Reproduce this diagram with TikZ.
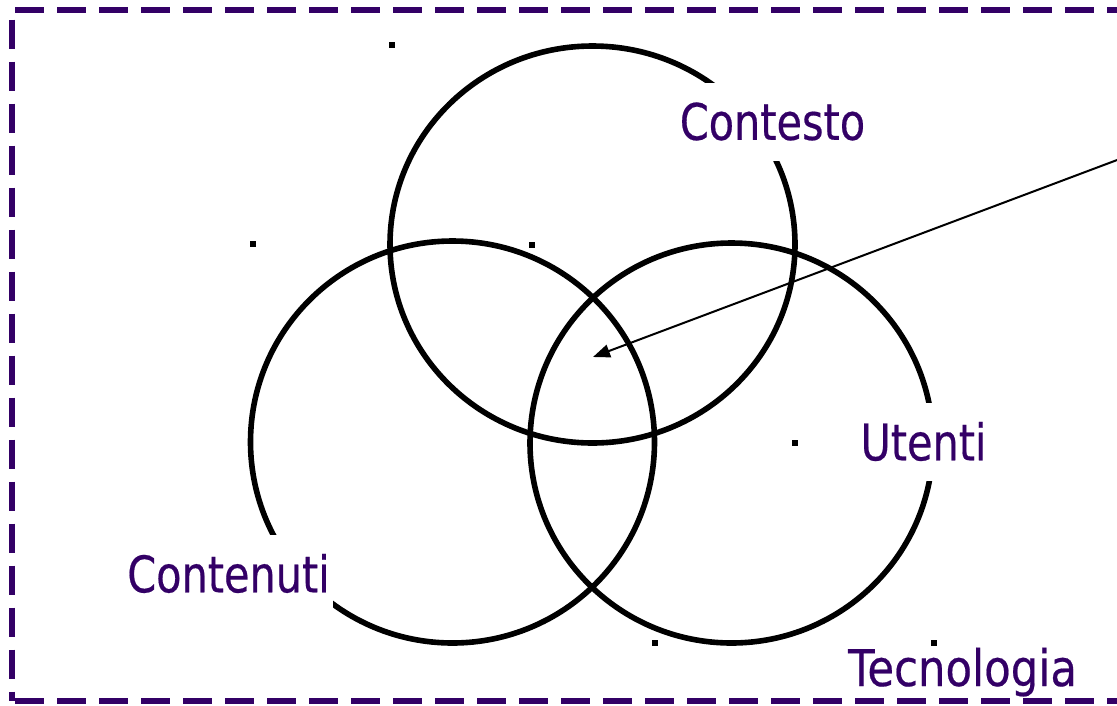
\documentclass[tikz,border=0pt]{standalone}
\usepackage{fontspec}
\setmainfont{DejaVu Sans}[FakeStretch=0.82,FakeBold=0.4]
\usetikzlibrary{arrows.meta}
\definecolor{ink}{RGB}{51,0,102}
\begin{document}
\begin{tikzpicture}[x=1pt,y=-1pt,
  venn/.style={line width=5.6pt, draw=black},
  lbl/.style={text=ink, font=\fontsize{50.5}{60}\selectfont, inner sep=0pt},
  blank/.style={lbl, fill=white, minimum height=78pt},
  dot/.style={rectangle, fill=black, inner sep=0pt, minimum size=6pt},
  frame/.style={draw=ink, line width=6pt, dash pattern=on 29pt off 13pt},
  pointer/.style={line width=2pt, -{Triangle[length=17pt,width=13pt]}}]
\useasboundingbox (0,0) rectangle (1117,705);
\clip (0,0) rectangle (1117,705);

% dashed frame, one side at a time
\draw[frame, dash phase=39pt] (12,10) -- (1140,10);
\draw[frame, dash phase=32.5pt] (12,10) -- (12,701);
\draw[frame, dash phase=39pt] (12,701) -- (1140,701);

% the three overlapping circles
\draw[venn] (592.5,244.5) ellipse [x radius=202.5, y radius=198.5];
\draw[venn] (452.5,442) ellipse [x radius=202, y radius=201];
\draw[venn] (731.5,443) ellipse [x radius=201.5, y radius=200];

% small markers
\node[dot] (m1) at (392,45) {};
\node[dot] (m2) at (253,244) {};
\node[dot] (m3) at (532,245) {};
\node[dot] (m4) at (794.5,443) {};
\node[dot] (m5) at (654.5,643) {};
\node[dot] (m6) at (934,643) {};

% labels on white boxes that break the circle outlines
\node[blank, minimum width=215pt] (contesto) at (772.5,121.5) {Contesto};
\node[blank, minimum width=209pt] (contenuti) at (228.5,573.5) {Contenuti};
\node[blank, minimum width=140pt] (utenti) at (923.5,441.5) {Utenti};
\node[lbl, anchor=base west] (tecnologia) at (848,686) {\addfontfeature{FakeStretch=0.86}Tecnologia};

% pointer into the common area
\coordinate (core) at (593,357);
\coordinate (far) at (1140,151.4);
\draw[pointer] (far) -- (core);
\end{tikzpicture}
\end{document}
